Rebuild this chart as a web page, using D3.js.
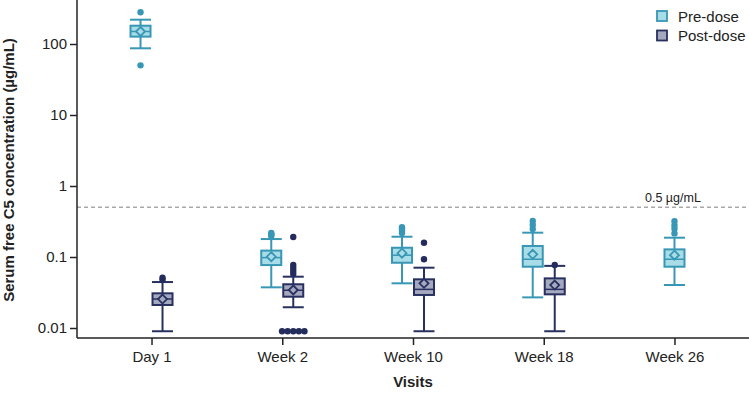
<!DOCTYPE html>
<html>
<head>
<meta charset="utf-8">
<script src="https://cdn.jsdelivr.net/npm/d3@7"></script>
<style>
  body { margin: 0; background: #fff; }
  svg { font-family: "Liberation Sans", Arial, sans-serif; }
  .axis text { font-size: 15px; fill: #222; }
  .axis path, .axis line { stroke: #222; stroke-width: 1.5; }
</style>
</head>
<body>
<svg id="chart" width="749" height="394"></svg>
<script>
// visits on the x axis
var visits = ['Day 1', 'Week 2', 'Week 10', 'Week 18', 'Week 26'];
var seriesNames = ['Pre-dose', 'Post-dose'];
var yTicks = [0.01, 0.1, 1, 10, 100];
var threshold = 0.5;

// box stats per visit: [lower whisker, q1, median, q3, upper whisker, mean]
var preBoxes = [
    [87, 127, 150, 181, 220, 150],
    [0.0374, 0.077, 0.098, 0.123, 0.179, 0.101],
    [0.0426, 0.083, 0.106, 0.135, 0.193, 0.113],
    [0.027, 0.073, 0.093, 0.143, 0.22, 0.109],
    [0.0403, 0.073, 0.093, 0.128, 0.187, 0.106]
];
var postBoxes = [
    [0.009, 0.0211, 0.0256, 0.0308, 0.0444, 0.0256],
    [0.0196, 0.0276, 0.034, 0.0413, 0.0528, 0.0343],
    [0.009, 0.0292, 0.035, 0.0485, 0.0707, 0.0426],
    [0.009, 0.0298, 0.035, 0.05, 0.075, 0.0403],
    null
];

// outlying points per visit
var preOutliers = [
    [280, 50],
    [0.198, 0.205, 0.211, 0.218],
    [0.218, 0.232, 0.247, 0.262],
    [0.247, 0.282, 0.321],
    [0.215, 0.25, 0.28, 0.32]
];
var postOutliers = [
    [0.048, 0.051],
    [0.0576, 0.0635, 0.07, 0.077, 0.191, 0.009, 0.009, 0.009, 0.009, 0.009],
    [0.093, 0.159],
    [0.077],
    []
];

var colors = {
    'Pre-dose': {stroke: '#3897b5', fill: '#a8dce7', dot: '#3897b5'},
    'Post-dose': {stroke: '#28305f', fill: '#a5a9c0', dot: '#232c5c'}
};

var svg = d3.select('#chart');
var x0 = 77, xAxisY = 338;
var boxW = 22;

var x = d3.scalePoint()
    .domain(visits)
    .range([x0, 749])
    .padding(0.57);

// 0.01 sits at 328px, 100 at 44px; extend to the plot edges
var y = d3.scaleLog().domain([0.01, 100]).range([328, 44]);
y.domain([y.invert(xAxisY), y.invert(0)]).range([xAxisY, 0]);

// threshold line
svg.append('line')
    .attr('x1', x0).attr('x2', 749)
    .attr('y1', y(threshold)).attr('y2', y(threshold))
    .attr('stroke', '#a8a8a8')
    .attr('stroke-width', 1.5)
    .attr('stroke-dasharray', '4,3');

svg.append('text')
    .attr('x', 645)
    .attr('y', y(threshold) - 5)
    .attr('font-size', 12.5)
    .attr('fill', '#222')
    .text('0.5 µg/mL');

// axes
svg.append('g')
    .attr('class', 'axis')
    .attr('transform', 'translate(' + x0 + ',0)')
    .call(d3.axisLeft(y).tickValues(yTicks).tickSize(7).tickPadding(3)
        .tickFormat(function(d) { return d3.format('~g')(d); }))
    .call(function(g) { g.select('.domain').attr('d', 'M0,0V' + xAxisY); });

svg.append('g')
    .attr('class', 'axis')
    .attr('transform', 'translate(0,' + xAxisY + ')')
    .call(d3.axisBottom(x).tickSize(7).tickPadding(6))
    .call(function(g) { g.select('.domain').attr('d', 'M' + x0 + ',0H749'); });

svg.append('text')
    .attr('x', 413).attr('y', 387)
    .attr('text-anchor', 'middle')
    .attr('font-size', 15)
    .attr('font-weight', 'bold')
    .attr('fill', '#222')
    .text('Visits');

svg.append('text')
    .attr('transform', 'translate(14,170) rotate(-90)')
    .attr('text-anchor', 'middle')
    .attr('font-size', 15)
    .attr('font-weight', 'bold')
    .attr('fill', '#222')
    .text('Serum free C5 concentration (µg/mL)');

// boxes
var groups = [];
visits.forEach(function(v, i) {
    var present = [];
    if (preBoxes[i]) present.push({name: 'Pre-dose', s: preBoxes[i], out: preOutliers[i]});
    if (postBoxes[i]) present.push({name: 'Post-dose', s: postBoxes[i], out: postOutliers[i]});
    present.forEach(function(p, k) {
        var off = present.length == 1 ? 0 : (k == 0 ? -boxW / 2 : boxW / 2);
        p.cx = x(v) + off;
        groups.push(p);
    });
});

var box = svg.selectAll('.box')
    .data(groups)
    .enter()
    .append('g')
    .attr('class', 'box');

box.each(function(d) {
    var g = d3.select(this);
    var c = colors[d.name];
    var s = d.s, cx = d.cx, h = boxW / 2;

    // whisker stem
    g.append('line')
        .attr('x1', cx).attr('x2', cx)
        .attr('y1', y(s[0])).attr('y2', y(s[4]))
        .attr('stroke', c.stroke).attr('stroke-width', 2);

    // caps
    [s[0], s[4]].forEach(function(val) {
        g.append('line')
            .attr('x1', cx - h + 0.5).attr('x2', cx + h - 0.5)
            .attr('y1', y(val)).attr('y2', y(val))
            .attr('stroke', c.stroke).attr('stroke-width', 2);
    });

    g.append('rect')
        .attr('x', cx - h + 1)
        .attr('y', y(s[3]))
        .attr('width', boxW - 2)
        .attr('height', y(s[1]) - y(s[3]))
        .attr('fill', c.fill)
        .attr('stroke', c.stroke)
        .attr('stroke-width', 2);

    g.append('line')
        .attr('x1', cx - h + 1).attr('x2', cx + h - 1)
        .attr('y1', y(s[2])).attr('y2', y(s[2]))
        .attr('stroke', c.stroke).attr('stroke-width', 1.5);

    // mean marker
    var my = y(s[5]), r = 4.5;
    g.append('path')
        .attr('d', 'M' + cx + ',' + (my - r) + 'L' + (cx + r) + ',' + my +
            'L' + cx + ',' + (my + r) + 'L' + (cx - r) + ',' + my + 'Z')
        .attr('fill', c.fill)
        .attr('stroke', c.stroke)
        .attr('stroke-width', 1.8);

    // outliers, tied values spread sideways
    var counts = _countBy(d.out);
    var seen = {};
    d.out.forEach(function(val) {
        var n = counts[val];
        seen[val] = (seen[val] || 0);
        var dx = (seen[val] - (n - 1) / 2) * 5.6;
        seen[val] ++;
        g.append('circle')
            .attr('cx', cx + dx)
            .attr('cy', y(val))
            .attr('r', 3.2)
            .attr('fill', c.dot);
    });
});

function _countBy(arr) {
    var o = {};
    arr.forEach(function(v) { o[v] = (o[v] || 0) + 1; });
    return o;
}

// legend
var legend = svg.selectAll('.legend')
    .data(seriesNames)
    .enter()
    .append('g')
    .attr('class', 'legend')
    .attr('transform', function(d, i) { return 'translate(657,' + (11 + i * 19.5) + ')'; });

legend.append('rect')
    .attr('width', 10).attr('height', 10)
    .attr('fill', function(d) { return colors[d].fill; })
    .attr('stroke', function(d) { return colors[d].stroke; })
    .attr('stroke-width', 1.8);

legend.append('text')
    .attr('x', 21).attr('y', 10.5)
    .attr('font-size', 15)
    .attr('fill', '#222')
    .text(function(d) { return d; });
</script>
</body>
</html>
